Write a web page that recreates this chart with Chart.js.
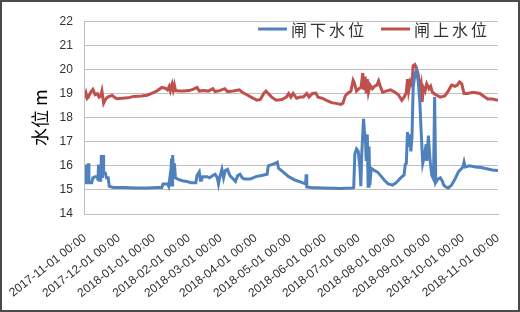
<!DOCTYPE html>
<html>
<head>
<meta charset="utf-8">
<script src="https://cdn.jsdelivr.net/npm/chart.js@4.4.0/dist/chart.umd.min.js"></script>
<style>
  html, body { margin: 0; padding: 0; background: #fff; }
  #frame { width: 520px; height: 312px; box-sizing: border-box; border: 2px solid #4a4a4a; }
  canvas { display: block; }
</style>
</head>
<body>
<div id="frame"><canvas id="levelChart" width="516" height="308"></canvas></div>
<script>
// 月份刻度 (从 2017-11-01 起的天数)
const monthDays = [0, 30, 61, 92, 120, 151, 181, 212, 242, 273, 304, 334, 365];
const monthLabels = [
    '2017-11-01 00:00', '2017-12-01 00:00', '2018-01-01 00:00', '2018-02-01 00:00',
    '2018-03-01 00:00', '2018-04-01 00:00', '2018-05-01 00:00', '2018-06-01 00:00',
    '2018-07-01 00:00', '2018-08-01 00:00', '2018-09-01 00:00', '2018-10-01 00:00',
    '2018-11-01 00:00'
];

// 闸下水位
const downDays = [
    0, 0.5, 1, 2.5, 3, 3.5, 6, 7, 9, 11, 11.5, 12, 12.5, 14, 14.5, 15.5, 16, 16.5, 18, 19,
    20.5, 21.5, 25, 35, 45, 55, 65, 68, 69, 73, 74, 75, 75.5, 76.5, 77, 77.5, 78.5, 79, 80, 82,
    86, 90, 94, 98, 99, 101, 102, 103, 104, 108, 110, 113, 115, 117, 118, 119, 121, 122.5, 124, 126,
    128, 131, 133, 135, 137, 139, 141, 146, 151, 156, 161, 162, 165, 168, 170, 171, 175, 180, 186, 192,
    195, 195.5, 196, 200, 210, 220, 226, 230, 236, 237.5, 238.5, 240, 241.5, 243, 243.8, 244.5, 246.2, 247, 247.8, 248.5,
    249.5, 250.2, 251, 251.8, 253, 256, 259, 262, 265, 268, 272, 275, 279, 282, 283, 284, 285, 286, 287, 288,
    289, 290, 291.5, 293, 294.5, 296, 297, 298.5, 300, 301.5, 302, 303.5, 305, 306.5, 308, 309, 310, 312, 314, 316,
    317, 319, 321, 324, 327, 330, 332, 334, 335, 336, 340, 345, 350, 355, 360, 365
];
const downLevels = [
    15.3, 16.05, 15.3, 15.3, 16.1, 15.3, 15.3, 15.5, 15.55, 15.55, 15.4, 16.05, 15.4, 15.4, 16.45, 15.5, 16.45, 15.75, 15.7, 15.5,
    15.5, 15.15, 15.1, 15.1, 15.08, 15.08, 15.1, 15.1, 15.25, 15.25, 15.15, 15.5, 15.15, 16.3, 15.2, 16.45, 15.5, 16.1, 15.5, 15.45,
    15.38, 15.35, 15.3, 15.3, 15.6, 15.75, 15.4, 15.4, 15.55, 15.55, 15.5, 15.6, 15.65, 15.5, 15.25, 15.5, 15.85, 15.5, 15.8, 15.85,
    15.6, 15.45, 15.35, 15.6, 15.65, 15.5, 15.45, 15.45, 15.55, 15.6, 15.65, 16.0, 16.05, 16.1, 16.15, 15.9, 15.75, 15.55, 15.4, 15.3,
    15.25, 15.65, 15.12, 15.1, 15.08, 15.07, 15.06, 15.07, 15.08, 15.1, 16.5, 16.7, 16.6, 15.9, 15.15, 16.4, 17.95, 17.4, 17.2, 16.2,
    17.3, 15.15, 16.8, 15.2, 15.9, 15.8, 15.72, 15.55, 15.38, 15.25, 15.2, 15.3, 15.5, 15.62, 16.05, 16.1, 17.4, 16.8, 17.3, 16.6,
    17.2, 19.2, 19.8, 19.95, 19.5, 18.6, 17.5, 16.1, 16.4, 16.9, 16.2, 17.25, 16.2, 15.6, 15.45, 18.85, 15.3, 15.45, 15.5, 15.35,
    15.2, 15.12, 15.08, 15.2, 15.45, 15.75, 15.85, 15.95, 16.15, 15.95, 16.0, 15.95, 15.93, 15.88, 15.83, 15.8
];

// 闸上水位
const upDays = [
    0, 1, 2, 3, 5, 7, 9, 11, 12.5, 14, 15, 16.5, 18, 20, 24, 28, 33, 38, 43, 50,
    55, 60, 64, 68, 71, 73, 74.5, 75.5, 77, 78, 79, 80, 83, 87, 92, 96, 99, 101, 105, 109,
    113, 115, 119, 123.5, 126, 131, 136.5, 139, 143, 148, 152, 155, 158, 160, 162, 165, 169, 174, 178, 180,
    182, 184, 187, 190, 193, 196, 198, 201, 204, 206, 210, 214, 218, 223, 226, 228, 230, 232, 235, 237,
    238, 240, 242, 244, 245.5, 246.5, 247.5, 248.5, 249.5, 250.5, 252, 254, 256, 258, 259.5, 261, 263, 266, 270, 274,
    277, 280, 282, 284, 285, 286, 287.5, 289, 290, 291.5, 293, 294.5, 296, 297, 298, 299, 300.5, 302, 304, 305.5,
    307, 310, 314, 318, 321, 324, 327, 329, 331, 333, 335, 338, 343, 349, 352, 356, 360, 365
];
const upLevels = [
    18.8, 19.0, 18.8, 18.85, 19.05, 19.17, 18.95, 19.0, 18.85, 18.9, 19.1, 18.6, 18.75, 18.85, 18.92, 18.78, 18.8, 18.82, 18.88, 18.9,
    18.93, 19.03, 19.12, 19.25, 19.22, 19.15, 19.3, 19.12, 19.38, 19.15, 19.35, 19.12, 19.1, 19.1, 19.12, 19.18, 19.25, 19.1, 19.12, 19.1,
    19.2, 19.08, 19.12, 19.2, 19.08, 19.1, 19.15, 19.05, 18.95, 18.82, 18.72, 18.75, 19.0, 19.1, 19.0, 18.85, 18.72, 18.75, 18.85, 19.0,
    18.85, 19.0, 18.8, 18.85, 18.85, 19.0, 18.85, 19.0, 19.02, 18.85, 18.8, 18.7, 18.62, 18.58, 18.55, 18.6, 18.9, 19.0, 19.1, 19.55,
    19.45, 19.1, 19.2, 19.25, 19.85, 19.15, 19.7, 19.0, 19.6, 19.05, 19.35, 19.2, 19.3, 19.35, 19.52, 19.3, 19.05, 19.1, 19.15, 19.05,
    18.95, 18.72, 18.85, 19.05, 19.6, 19.1, 19.5, 19.35, 20.15, 20.2, 20.05, 19.8, 19.2, 19.4, 18.65, 19.25, 19.1, 19.4, 19.2, 19.3,
    19.05, 18.95, 18.85, 18.9, 19.1, 19.35, 19.3, 19.35, 19.48, 19.4, 19.0, 19.0, 19.05, 19.0, 18.9, 18.77, 18.77, 18.72
];

// 把天数和水位组合成点
function toPoints(days, levels) {
    return days.map((d, i) => ({ x: d, y: levels[i] }));
}

// 图例画在绘图区内部右上角
const inlineLegend = {
    id: 'inlineLegend',
    afterDatasetsDraw(chart) {
        const ctx = chart.ctx;
        let x = 256;
        const y = 27;
        ctx.save();
        ctx.font = '16px "Noto Sans CJK SC"';
        ctx.letterSpacing = '3px';
        ctx.textBaseline = 'middle';
        ctx.fillStyle = '#333';
        chart.data.datasets.forEach(ds => {
            ctx.strokeStyle = ds.borderColor;
            ctx.lineWidth = 3;
            ctx.beginPath();
            ctx.moveTo(x, y);
            ctx.lineTo(x + 29, y);
            ctx.stroke();
            ctx.fillText(ds.label, x + 33, y + 1);
            x += 33 + ctx.measureText(ds.label).width + 14;
        });
        ctx.restore();
    }
};

new Chart(document.getElementById('levelChart'), {
    type: 'line',
    data: {
        datasets: [
            {
                label: '闸下水位',
                data: toPoints(downDays, downLevels),
                borderColor: '#4F81BD',
                borderWidth: 3,
                pointRadius: 0,
                tension: 0
            },
            {
                label: '闸上水位',
                data: toPoints(upDays, upLevels),
                borderColor: '#C0504D',
                borderWidth: 3,
                pointRadius: 0,
                tension: 0
            }
        ]
    },
    options: {
        responsive: false,
        animation: false,
        layout: { padding: { left: 0, right: 20, top: 15, bottom: 0 } },
        plugins: {
            legend: { display: false },
            tooltip: { enabled: false }
        },
        scales: {
            x: {
                type: 'linear',
                min: 0,
                max: 365,
                afterBuildTicks: scale => {
                    scale.ticks = monthDays.map(v => ({ value: v }));
                },
                afterFit: scale => { scale.height = 96; },
                grid: { display: false },
                border: { display: true, color: '#BFBFBF' },
                ticks: {
                    autoSkip: false,
                    minRotation: 38,
                    maxRotation: 38,
                    padding: 9,
                    color: '#333',
                    font: { family: '"Liberation Sans", Arial', size: 12 },
                    callback: (value, index) => monthLabels[index]
                }
            },
            y: {
                min: 14,
                max: 22,
                afterFit: scale => { scale.width = 80; },
                grid: { color: '#BFBFBF', drawTicks: false },
                border: { color: '#BFBFBF' },
                ticks: {
                    stepSize: 1,
                    padding: 12,
                    color: '#333',
                    font: { family: '"Liberation Sans", Arial', size: 12 }
                },
                title: {
                    display: true,
                    text: '水位 m',
                    color: '#000',
                    padding: { top: 24, bottom: 0 },
                    font: { family: '"Noto Sans CJK SC"', size: 18 }
                }
            }
        }
    },
    plugins: [inlineLegend]
});
</script>
</body>
</html>
